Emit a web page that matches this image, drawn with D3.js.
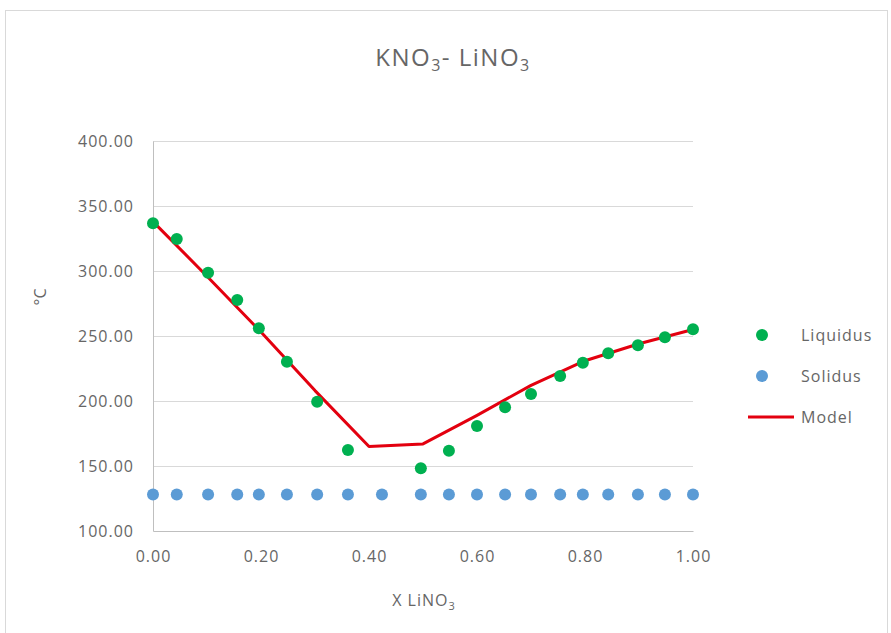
<!DOCTYPE html>
<html>
<head>
<meta charset="utf-8">
<script src="https://cdn.jsdelivr.net/npm/d3@7"></script>
<style>
  body { margin: 0; background: #fff; }
  text { font-family: "Open Sans", sans-serif; fill: #666; }
</style>
</head>
<body>
<div id="chart"></div>
<script>
// liquidus points
var liquidusX = [0, 0.044, 0.102, 0.156, 0.196, 0.248, 0.304, 0.361, 0.496, 0.548, 0.6, 0.652, 0.7, 0.754, 0.796, 0.843, 0.898, 0.948, 1.0];
var liquidusT = [336.7, 324.6, 298.7, 277.7, 255.9, 230.2, 199.5, 162.3, 148.2, 161.8, 180.8, 195.2, 205.4, 219.2, 229.5, 236.7, 242.8, 249, 255.2];

// solidus points
var solidusX = [0, 0.044, 0.102, 0.156, 0.196, 0.248, 0.304, 0.361, 0.424, 0.496, 0.548, 0.6, 0.652, 0.7, 0.754, 0.796, 0.843, 0.898, 0.948, 1.0];
var solidusT = [128, 128, 128, 128, 128, 128, 128, 128, 128, 128, 128, 128, 128, 128, 128, 128, 128, 128, 128, 128];

// model line
var modelX = [0, 0.1, 0.2, 0.3, 0.4, 0.5, 0.6, 0.7, 0.8, 0.9, 1.0];
var modelT = [338, 296, 253, 208, 165, 167, 189, 212, 231, 244, 255];

var xTicks = [0, 0.2, 0.4, 0.6, 0.8, 1.0];
var yTicks = [100, 150, 200, 250, 300, 350, 400];

var W = 891, H = 633;
var margin = {top: 141, right: 198, bottom: 102, left: 153};
var width = W - margin.left - margin.right,
    height = H - margin.top - margin.bottom;

var svg = d3.select("#chart")
    .append("svg")
    .attr("width", W)
    .attr("height", H);

// chart area border
svg.append("rect")
    .attr("x", 5.5).attr("y", 10.5)
    .attr("width", 882).attr("height", 640)
    .attr("fill", "none")
    .attr("stroke", "#d9d9d9");

var g = svg.append("g")
    .attr("transform", "translate(" + margin.left + "," + margin.top + ")");

var x = d3.scaleLinear().domain([0, 1]).range([0, width]);
var y = d3.scaleLinear().domain([100, 400]).range([height, 0]);

// gridlines
g.append("g")
    .call(d3.axisLeft(y).tickValues(yTicks.slice(1)).tickSize(-width).tickFormat(""))
    .call(function(s) {
        s.select(".domain").remove();
        s.selectAll("line").attr("stroke", "#d9d9d9").attr("stroke-width", 1);
    });

// y axis
g.append("g")
    .call(d3.axisLeft(y).tickValues(yTicks).tickSize(0).tickPadding(19).tickFormat(d3.format(".2f")))
    .call(function(s) {
        s.select(".domain").attr("stroke", "#bfbfbf");
        s.selectAll("text").style("font-size", "16px").style("letter-spacing", "1px").attr("fill", "#666");
    });

// x axis
g.append("g")
    .attr("transform", "translate(0," + height + ")")
    .call(d3.axisBottom(x).tickValues(xTicks).tickSize(0).tickPadding(20).tickFormat(d3.format(".2f")))
    .call(function(s) {
        s.select(".domain").attr("stroke", "#bfbfbf");
        s.selectAll("text").style("font-size", "16px").style("letter-spacing", "1px").attr("fill", "#666");
    });

// model line
var line = d3.line()
    .x(function(d) { return x(d[0]); })
    .y(function(d) { return y(d[1]); });

g.append("path")
    .datum(d3.zip(modelX, modelT))
    .attr("d", line)
    .attr("fill", "none")
    .attr("stroke", "#e3000f")
    .attr("stroke-width", 3)
    .attr("stroke-linejoin", "round");

// solidus
g.selectAll(".sol")
    .data(d3.zip(solidusX, solidusT))
    .enter()
    .append("circle")
    .attr("cx", function(d) { return x(d[0]); })
    .attr("cy", function(d) { return y(d[1]); })
    .attr("r", 6)
    .attr("fill", "#5b9bd5");

// liquidus
g.selectAll(".liq")
    .data(d3.zip(liquidusX, liquidusT))
    .enter()
    .append("circle")
    .attr("cx", function(d) { return x(d[0]); })
    .attr("cy", function(d) { return y(d[1]); })
    .attr("r", 6)
    .attr("fill", "#00b050");

// title
var title = svg.append("text")
    .attr("x", 453).attr("y", 66)
    .attr("text-anchor", "middle")
    .style("font-size", "24px")
    .style("letter-spacing", "1.5px");
title.append("tspan").text("KNO");
title.append("tspan").text("3").style("font-size", "16px").attr("dy", 5);
title.append("tspan").text("- LiNO").attr("dy", -5);
title.append("tspan").text("3").style("font-size", "16px").attr("dy", 5);

// axis titles
var xt = svg.append("text")
    .attr("x", 424).attr("y", 606)
    .attr("text-anchor", "middle")
    .style("font-size", "16px")
    .style("letter-spacing", "1px");
xt.append("tspan").text("X LiNO");
xt.append("tspan").text("3").style("font-size", "11px").attr("dy", 4);

svg.append("text")
    .attr("transform", "translate(46,297) rotate(-90)")
    .attr("text-anchor", "middle")
    .style("font-size", "16px")
    .text("°C");

// legend
var legend = svg.append("g");
legend.append("circle").attr("cx", 762).attr("cy", 335).attr("r", 6).attr("fill", "#00b050");
legend.append("text").attr("x", 801).attr("y", 341).style("font-size", "16px").style("letter-spacing", "1px").text("Liquidus");
legend.append("circle").attr("cx", 762).attr("cy", 376).attr("r", 6).attr("fill", "#5b9bd5");
legend.append("text").attr("x", 801).attr("y", 382).style("font-size", "16px").style("letter-spacing", "1px").text("Solidus");
legend.append("line").attr("x1", 748).attr("x2", 794).attr("y1", 417).attr("y2", 417)
    .attr("stroke", "#e3000f").attr("stroke-width", 3);
legend.append("text").attr("x", 801).attr("y", 423).style("font-size", "16px").style("letter-spacing", "1px").text("Model");
</script>
</body>
</html>
